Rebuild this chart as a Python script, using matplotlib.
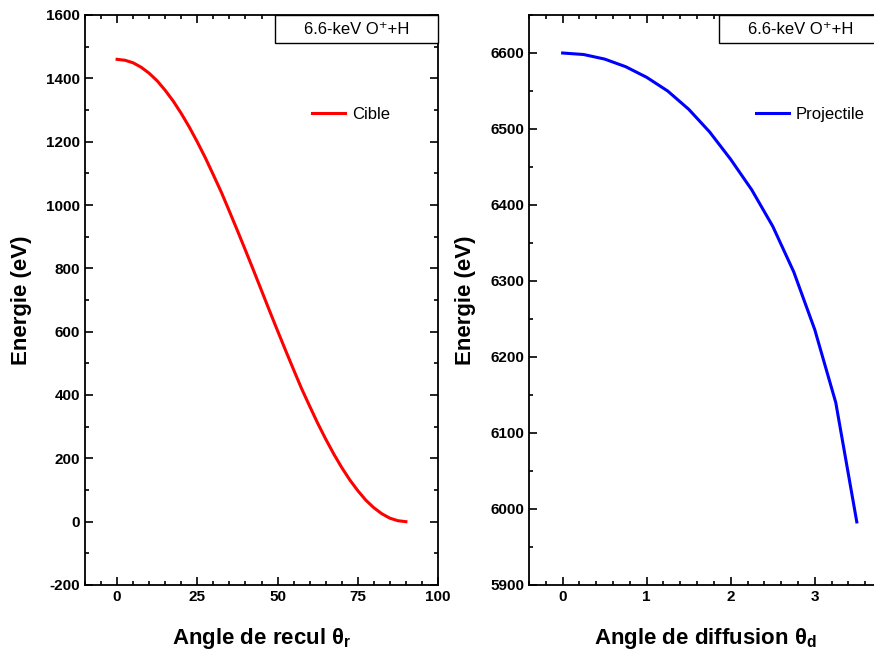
import matplotlib as mpl
mpl.use('Agg')
import matplotlib.pyplot as plt
from matplotlib.patches import Rectangle

# angle de recul (deg) / energie cible (eV)
theta_r = [0, 2.5, 5, 7.5, 10, 12.5, 15, 17.5, 20, 22.5, 25, 27.5, 30, 32.5, 35,
           37.5, 40, 42.5, 45, 47.5, 50, 52.5, 55, 57.5, 60, 62.5, 65, 67.5, 70,
           72.5, 75, 77.5, 80, 82.5, 85, 87.5, 90]
e_cible = [1460, 1457, 1449, 1435, 1416, 1392, 1362, 1328, 1289, 1246, 1199,
           1149, 1095, 1040, 980, 919, 857, 794, 730, 666, 603, 541, 480, 420,
           365, 311, 261, 214, 171, 132, 98, 68, 44, 25, 11, 3, 0]

# angle de diffusion (deg) / energie projectile (eV)
theta_d = [0, 0.25, 0.5, 0.75, 1.0, 1.25, 1.5, 1.75, 2.0, 2.25, 2.5, 2.75, 3.0, 3.25, 3.5]
e_proj = [6600, 6598, 6592, 6582, 6568, 6550, 6526, 6496, 6460, 6420, 6372,
          6312, 6236, 6140, 5983]

box_text = "6.6-keV O\u207a+H"

plt.rcParams['font.family'] = ['Liberation Sans Narrow', 'Liberation Sans', 'DejaVu Sans']
plt.rcParams['axes.unicode_minus'] = False
plt.rcParams['mathtext.fontset'] = 'custom'
plt.rcParams['mathtext.rm'] = 'Liberation Sans:bold'
plt.rcParams['mathtext.it'] = 'Liberation Sans:bold'
plt.rcParams['mathtext.default'] = 'rm'

fig = plt.figure(figsize=(8.74, 6.53), dpi=100)
ax1 = fig.add_axes([85 / 874, 1 - 585 / 653, 353 / 874, 570 / 653])
ax2 = fig.add_axes([529 / 874, 1 - 585 / 653, 353 / 874, 570 / 653])


def style_axis(ax):
    ax.tick_params(which='both', direction='in', top=True, right=True,
                   width=1.2, labelsize=11)
    ax.tick_params(which='major', length=6)
    ax.tick_params(which='minor', length=3)
    for lab in ax.get_xticklabels() + ax.get_yticklabels():
        lab.set_fontweight('bold')
    for sp in ax.spines.values():
        sp.set_linewidth(1.3)


def add_box(ax):
    ax.add_patch(Rectangle((0.538, 0.951), 0.462, 0.049, transform=ax.transAxes,
                           facecolor='white', edgecolor='black', linewidth=1.0,
                           zorder=5, clip_on=False))
    ax.text(0.769, 0.975, box_text, transform=ax.transAxes, ha='center',
            va='center', fontsize=12, zorder=6,
            family=['Liberation Sans', 'DejaVu Sans'])


# ---- gauche : cible ----
ax1.plot(theta_r, e_cible, color='red', linewidth=2.2, label='Cible')
ax1.set_xlim(-10, 100)
ax1.set_ylim(-200, 1600)
ax1.set_xticks([0, 25, 50, 75, 100])
ax1.set_xticks(range(-10, 101, 5), minor=True)
ax1.set_yticks(range(-200, 1601, 200))
ax1.set_yticks(range(-200, 1601, 100), minor=True)
ax1.set_xlabel('Angle de recul θ$_r$', fontsize=16, fontweight='bold', labelpad=16)
ax1.set_ylabel('Energie (eV)', fontsize=16, fontweight='bold', labelpad=10)
style_axis(ax1)
add_box(ax1)
ax1.legend(loc='upper left', bbox_to_anchor=(0.6, 0.865), frameon=False,
           handlelength=2.0, handletextpad=0.4,
           prop={'family': ['Liberation Sans', 'DejaVu Sans'], 'size': 12})

# ---- droite : projectile ----
ax2.plot(theta_d, e_proj, color='blue', linewidth=2.2, label='Projectile')
ax2.set_xlim(-0.4, 3.8)
ax2.set_ylim(5900, 6650)
ax2.set_xticks([0, 1, 2, 3])
ax2.set_xticks([x / 5 for x in range(-2, 20)], minor=True)
ax2.set_yticks(range(5900, 6601, 100))
ax2.set_yticks(range(5900, 6651, 50), minor=True)
ax2.set_xlabel('Angle de diffusion θ$_d$', fontsize=16, fontweight='bold', labelpad=16)
ax2.set_ylabel('Energie (eV)', fontsize=16, fontweight='bold', labelpad=10)
style_axis(ax2)
add_box(ax2)
ax2.legend(loc='upper left', bbox_to_anchor=(0.6, 0.865), frameon=False,
           handlelength=2.0, handletextpad=0.4,
           prop={'family': ['Liberation Sans', 'DejaVu Sans'], 'size': 12})

fig.savefig('out.png', dpi=100)
